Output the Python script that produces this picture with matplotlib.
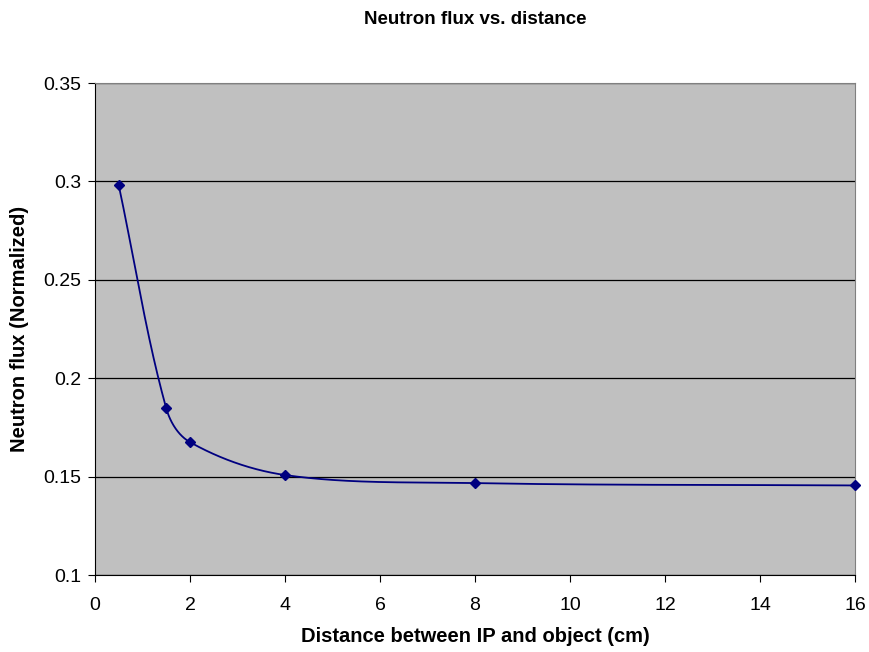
import numpy as np
import matplotlib
matplotlib.use("Agg")
import matplotlib.pyplot as plt

# data
distance = [0.5, 1.5, 2, 4, 8, 16]
flux = [0.298, 0.1847, 0.1675, 0.1508, 0.1467, 0.1455]

plt.rcParams['font.family'] = ['Liberation Sans', 'DejaVu Sans']

fig = plt.figure(figsize=(8.7, 6.52), dpi=100)
ax = fig.add_axes([95/870, 77/652, 760/870, 492/652])

# smooth curve like excel (bezier through points, done in pixel space)
sx, sy = 47.5, 1968.0
P = np.column_stack([np.array(distance) * sx, np.array(flux) * sy])
n = len(P)
tang = []
for i in range(n):
    a = P[max(i - 1, 0)]
    b = P[min(i + 1, n - 1)]
    d = np.linalg.norm(b - a)
    tang.append((b - a) / d)
curve = []
for i in range(n - 1):
    L = np.linalg.norm(P[i + 1] - P[i])
    c1 = P[i] + tang[i] * L / 3
    c2 = P[i + 1] - tang[i + 1] * L / 3
    t = np.linspace(0, 1, 80)[:, None]
    seg = (1-t)**3*P[i] + 3*(1-t)**2*t*c1 + 3*(1-t)*t**2*c2 + t**3*P[i + 1]
    curve.append(seg)
curve = np.vstack(curve)
ax.plot(curve[:, 0] / sx, curve[:, 1] / sy, color='#000080', lw=1.3, zorder=3)
ax.plot(distance, flux, 'D', color='#000080', ms=5, zorder=4, clip_on=False)

ax.set_facecolor('#C0C0C0')
ax.set_xlim(0, 16)
ax.set_ylim(0.1, 0.35)
ax.set_xticks(range(0, 17, 2))
ax.set_yticks([0.1, 0.15, 0.2, 0.25, 0.3, 0.35])
ax.set_yticklabels(['0.1', '0.15', '0.2', '0.25', '0.3', '0.35'])
ax.yaxis.grid(True, color='black', lw=0.9)
ax.set_axisbelow(True)
ax.tick_params(direction='out', length=5, labelsize=14, color='black')
ax.tick_params(axis='x', pad=11)
ax.tick_params(axis='y', pad=5)
for s in ['top', 'right']:
    ax.spines[s].set_color('#808080')
for s in ['left', 'bottom']:
    ax.spines[s].set_color('black')

ax.set_xlabel('Distance between IP and object (cm)', fontsize=14.5, fontweight='bold', labelpad=9)
ax.set_ylabel('Neutron flux (Normalized)', fontsize=14.5, fontweight='bold')
ax.yaxis.set_label_coords(-(95 - 29) / 760, 0.5)
# title centred over the plot area
fig.text(475/870, 1 - 20/652, 'Neutron flux vs. distance', ha='center', va='center',
         fontsize=13.5, fontweight='bold')

fig.savefig('out.png', dpi=100)
